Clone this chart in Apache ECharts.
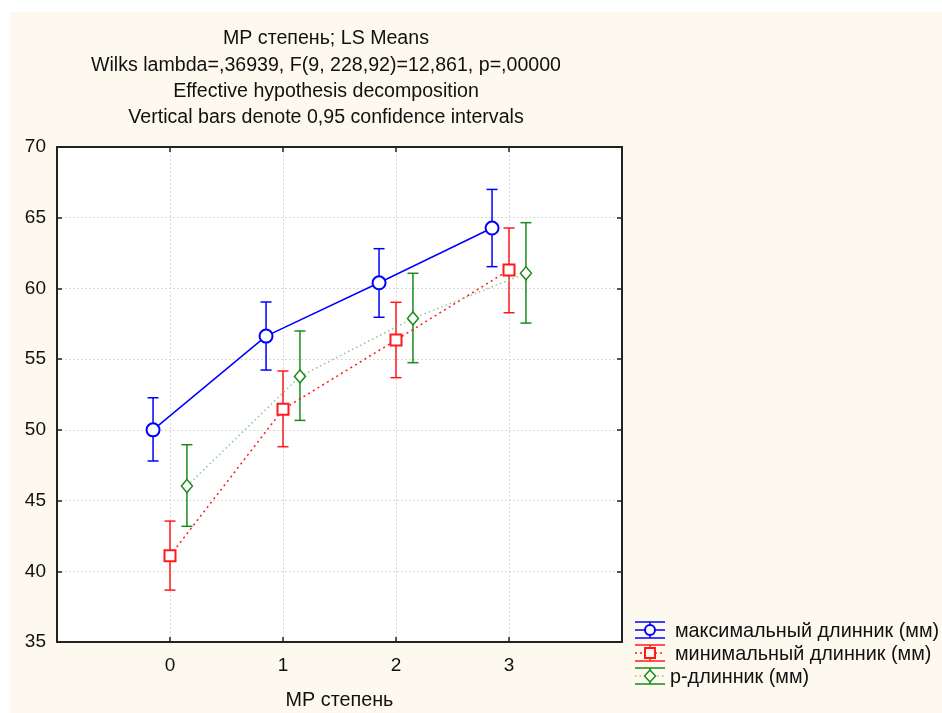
<!DOCTYPE html>
<html><head><meta charset="utf-8">
<script src="https://cdn.jsdelivr.net/npm/echarts@6/dist/echarts.min.js"></script>
<style>
html,body{margin:0;padding:0;background:#fff;}
#bg{position:absolute;left:10px;top:12px;right:0;bottom:0;background:#fdf9ee;}
#c{position:absolute;left:0;top:0;width:942px;height:713px;}
</style></head>
<body><div id="bg"></div><div id="c"></div>
<script>
const categories = [0, 1, 2, 3];
const seriesNames = ['максимальный длинник (мм)', 'минимальный длинник (мм)', 'р-длинник (мм)'];
const maxMean = [50.0, 56.63, 60.4, 64.27];
const maxLow  = [47.8, 54.23, 57.96, 61.54];
const maxHigh = [52.27, 59.04, 62.81, 67.0];
const minMean = [41.1, 51.45, 56.35, 61.3];
const minLow  = [38.67, 48.81, 53.69, 58.28];
const minHigh = [43.55, 54.16, 59.02, 64.27];
const pMean = [46.03, 53.78, 57.88, 61.07];
const pLow  = [43.18, 50.67, 54.75, 57.55];
const pHigh = [48.95, 56.99, 61.07, 64.65];
const yTicks = [35, 40, 45, 50, 55, 60, 65, 70];
const titleLines = ['MP степень; LS Means', 'Wilks lambda=,36939, F(9, 228,92)=12,861, p=,00000', 'Effective hypothesis decomposition', 'Vertical bars denote 0,95 confidence intervals'];

const FONT = '"Liberation Sans", Arial, sans-serif';
const colors = ['#0000ff', '#ff1a1a', '#1a8a1a'];
const offsets = [-0.15, 0, 0.15];

function pts(mean, k){ return categories.map((c,i)=>[c+offsets[k], mean[i]]); }
function bars(low, high, k){ return categories.map((c,i)=>[c+offsets[k], low[i], high[i]]); }

function errSeries(low, high, k){
  return {
    type:'custom', z:3,
    data: bars(low, high, k),
    encode:{x:0, y:[1,2]},
    renderItem:function(params, api){
      const x = api.value(0);
      const lo = api.coord([x, api.value(1)]);
      const hi = api.coord([x, api.value(2)]);
      const w = 5.5;
      const st = {stroke: colors[k], lineWidth: 1.5};
      return {type:'group', children:[
        {type:'line', shape:{x1:lo[0], y1:lo[1], x2:hi[0], y2:hi[1]}, style:st},
        {type:'line', shape:{x1:lo[0]-w, y1:lo[1], x2:lo[0]+w, y2:lo[1]}, style:st},
        {type:'line', shape:{x1:hi[0]-w, y1:hi[1], x2:hi[0]+w, y2:hi[1]}, style:st}
      ]};
    }
  };
}

const chart = echarts.init(document.getElementById('c'));
const axisCommon = {
  type:'value', min:-1, max:4, interval:1,
  axisLine:{show:true, onZero:false, lineStyle:{color:'#222', width:2}},
  axisTick:{show:true, inside:true, length:5, lineStyle:{color:'#222', width:1.5}},
};
const yCommon = {
  type:'value', min:35, max:70, interval:5,
  axisLine:{show:true, onZero:false, lineStyle:{color:'#222', width:2}},
  axisTick:{show:true, inside:true, length:5, lineStyle:{color:'#222', width:1.5}},
};

// legend graphics
const legendItems = [];
const legendY = [630, 653, 676];
const legendTextX = [675, 675, 670];
const lineTypes = [null, [2,3], [1.5,3]];
const lineColors = ['#0000ff', '#ff1a1a', '#8fc78f'];
for (let k=0;k<3;k++){
  const y = legendY[k];
  const st = {stroke: colors[k], lineWidth: 1.5};
  const ch = [
    {type:'line', shape:{x1:635,y1:y-8,x2:665,y2:y-8}, style:st},
    {type:'line', shape:{x1:635,y1:y+8,x2:665,y2:y+8}, style:st},
    {type:'line', shape:{x1:650,y1:y-8,x2:650,y2:y+8}, style:st},
    {type:'line', shape:{x1:635,y1:y,x2:665,y2:y}, style:{stroke: lineColors[k], lineWidth:1.5, lineDash: lineTypes[k]}}
  ];
  if (k===0) ch.push({type:'circle', shape:{cx:650,cy:y,r:5}, style:{fill:'#fdf9ee', stroke:colors[k], lineWidth:2}});
  if (k===1) ch.push({type:'rect', shape:{x:645,y:y-5,width:10,height:10}, style:{fill:'#fdf9ee', stroke:colors[k], lineWidth:2}});
  if (k===2) ch.push({type:'polygon', shape:{points:[[650,y-6],[655.5,y],[650,y+6],[644.5,y]]}, style:{fill:'#fdf9ee', stroke:colors[k], lineWidth:1.5}});
  ch.push({type:'text', x:legendTextX[k], y:y+2, style:{text:seriesNames[k], font:'19.8px '+FONT, fill:'#111', textVerticalAlign:'middle', textAlign:'left'}});
  legendItems.push(...ch);
}
const titleGraphics = titleLines.map((t,i)=>({type:'text', x:326, y:39+i*26.3, style:{text:t, font:'19.6px '+FONT, fill:'#111', textAlign:'center', textVerticalAlign:'middle'}}));

chart.setOption({
  animation:false,
  grid:{left:57, top:147, width:565, height:495, show:true, backgroundColor:'#fff', borderWidth:0, outerBoundsMode:'none', containLabel:false},
  xAxis:[
    Object.assign({}, axisCommon, {
      position:'bottom',
      name:'MP степень', nameLocation:'middle', nameGap:49,
      nameTextStyle:{fontFamily:FONT, fontSize:19.8, color:'#111'},
      axisLabel:{fontFamily:FONT, fontSize:19, color:'#111', margin:14,
        formatter:v=> categories.indexOf(v)>=0 ? String(v) : ''},
      splitLine:{show:true, lineStyle:{color:'#d8d8d8', type:[2,2], width:1}}
    }),
    Object.assign({}, axisCommon, {position:'top', axisLabel:{show:false}, splitLine:{show:false}})
  ],
  yAxis:[
    Object.assign({}, yCommon, {
      position:'left',
      axisLabel:{fontFamily:FONT, fontSize:19, color:'#111', margin:11,
        formatter:v=> yTicks.indexOf(v)>=0 ? String(v) : ''},
      splitLine:{show:true, lineStyle:{color:'#d8d8d8', type:[2,2], width:1}}
    }),
    Object.assign({}, yCommon, {position:'right', axisLabel:{show:false}, splitLine:{show:false}})
  ],
  series:[
    {type:'line', name:seriesNames[0], data:pts(maxMean,0), z:4,
      lineStyle:{color:colors[0], width:1.5}, symbol:'circle', symbolSize:13,
      itemStyle:{color:'#fff', borderColor:colors[0], borderWidth:2}},
    {type:'line', name:seriesNames[1], data:pts(minMean,1), z:4,
      lineStyle:{color:colors[1], width:1.5, type:[2,3.5]}, symbol:'rect', symbolSize:11,
      itemStyle:{color:'#fff', borderColor:colors[1], borderWidth:2}},
    {type:'line', name:seriesNames[2], data:pts(pMean,2), z:4,
      lineStyle:{color:'#8fc78f', width:1.5, type:[1.5,3]}, symbol:'diamond', symbolSize:[11,13],
      itemStyle:{color:'#fff', borderColor:colors[2], borderWidth:1.5}},
    errSeries(maxLow, maxHigh, 0),
    errSeries(minLow, minHigh, 1),
    errSeries(pLow, pHigh, 2)
  ],
  graphic: titleGraphics.concat(legendItems)
});
</script></body></html>
